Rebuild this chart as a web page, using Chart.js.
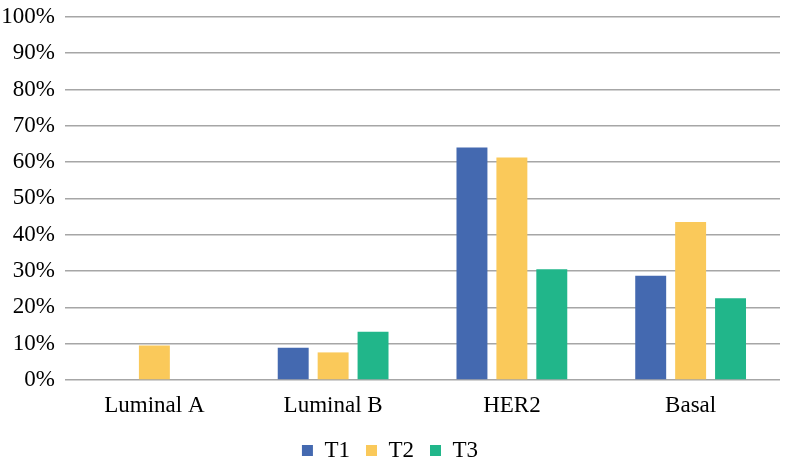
<!DOCTYPE html>
<html>
<head>
<meta charset="utf-8">
<script src="https://cdn.jsdelivr.net/npm/chart.js@4"></script>
<style>
  html, body { margin: 0; padding: 0; background: #fff; overflow: hidden; }
  #wrap { width: 786px; height: 465px; }
  #probe { font-family: 'Liberation Serif'; font-size: 23px; position: absolute; left: -9999px; top: 0; }
</style>
</head>
<body>
<span id="probe">100% Luminal T1</span>
<div id="wrap"><canvas id="chart"></canvas></div>
<script>
// Data
const CATEGORIES = ['Luminal A', 'Luminal B', 'HER2', 'Basal'];
const T1 = [0, 8.9, 64.0, 28.7];
const T2 = [9.5, 7.6, 61.3, 43.5];
const T3 = [0, 13.3, 30.5, 22.5];
const Y_TICKS = [0, 10, 20, 30, 40, 50, 60, 70, 80, 90, 100];

const SERIES = [
    { label: 'T1', data: T1, color: '#4469b0' },
    { label: 'T2', data: T2, color: '#fac95a' },
    { label: 'T3', data: T3, color: '#21b68a' },
];

const FONT = '"Liberation Serif", "Times New Roman", serif';

// keep the legend short so the plot reaches down like the original
const legendHeight = {
    id: 'legendHeight',
    beforeLayout(chart) {
        const lg = chart.legend;
        if (!lg || lg._patched) return;
        const fit = lg.fit;
        lg.fit = function () { fit.call(this); this.height = 42; };
        lg._patched = true;
    },
};

let chart = null;

function draw() {
    if (chart) { chart.update(); return; }
    chart = new Chart(document.getElementById('chart'), {
        type: 'bar',
        data: {
            labels: CATEGORIES,
            datasets: SERIES.map(s => ({
                label: s.label,
                data: s.data,
                backgroundColor: s.color,
                borderWidth: 0,
                categoryPercentage: 0.67,
                barPercentage: 0.775,
            })),
        },
        options: {
            responsive: true,
            maintainAspectRatio: false,
            animation: false,
            layout: { padding: { left: 0, right: 6, top: 0, bottom: 0 } },
            plugins: {
                legend: {
                    position: 'bottom',
                    labels: {
                        color: '#000',
                        font: { family: FONT, size: 23 },
                        boxWidth: 11,
                        boxHeight: 11,
                        padding: 16,
                    },
                },
                tooltip: { enabled: false },
            },
            scales: {
                x: {
                    grid: { display: false },
                    border: { display: false },
                    ticks: { color: '#000', font: { family: FONT, size: 23 }, padding: 4 },
                    afterFit: (axis) => { axis.height = 43; },
                },
                y: {
                    min: 0,
                    max: 100,
                    afterBuildTicks: (axis) => { axis.ticks = Y_TICKS.map(v => ({ value: v })); },
                    afterFit: (axis) => { axis.width = 65; },
                    grid: { color: '#a6a6a6', lineWidth: 1.5, drawTicks: false },
                    border: { display: false },
                    ticks: {
                        color: '#000',
                        font: { family: FONT, size: 23, lineHeight: 0.6 },
                        padding: 10,
                        callback: (v) => v + '%',
                    },
                },
            },
        },
        plugins: [legendHeight],
    });
}

document.fonts.load('23px "Liberation Serif"').then(draw, draw);
setTimeout(draw, 300);
setTimeout(draw, 900);
</script>
</body>
</html>
